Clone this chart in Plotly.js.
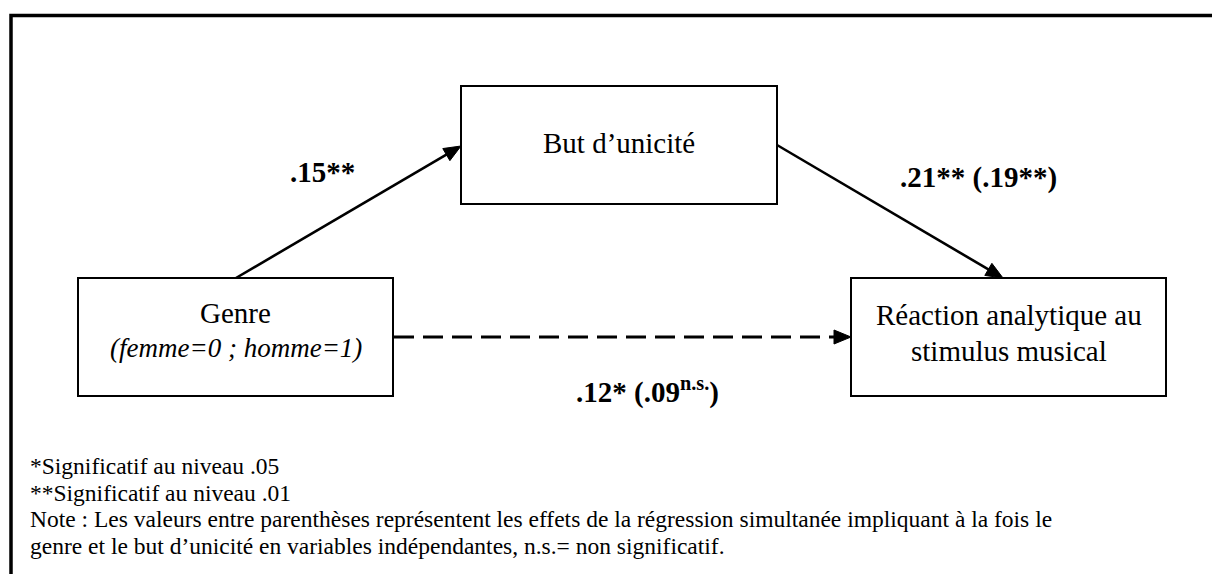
<!DOCTYPE html>
<html>
<head>
<meta charset="utf-8">
<script src="https://cdn.plot.ly/plotly-3.0.1.min.js"></script>
<style>html,body{margin:0;padding:0;background:#fff;}#chart{width:1212px;height:574px;}</style>
</head>
<body>
<div id="chart"></div>
<script>
// ---- content (data) ----
var nodeLines = [["Genre"], ["But d’unicité"], ["Réaction analytique au", "stimulus musical"]];
var nodeSubtitles = ["(femme=0 ; homme=1)", "", ""];
var pathCoefs = [".15**", ".21** (.19**)", ".12* (.09<sup>n.s.</sup>)"];
var pathDashed = [false, false, true];
var notes = [
  "*Significatif au niveau .05",
  "**Significatif au niveau .01",
  "Note : Les valeurs entre parenthèses représentent les effets de la régression simultanée impliquant à la fois le",
  "genre et le but d’unicité en variables indépendantes, n.s.= non significatif."
];

// ---- layout geometry (positions / styles) ----
var CW = 1212, CH = 574;
var SERIF = "Times New Roman";
var boxes = [
  {x0: 78, y0: 278, x1: 393, y1: 396, textY: [313], subY: 348},
  {x0: 461, y0: 86, x1: 777, y1: 204, textY: [143], subY: null},
  {x0: 851, y0: 278, x1: 1166, y1: 396, textY: [315, 351], subY: null}
];
var pathGeom = [
  {sx: 236, sy: 278, ex: 461, ey: 146, lx: 322, ly: 172},
  {sx: 777, sy: 145, ex: 1003, ey: 278, lx: 978, ly: 177},
  {sx: 394, sy: 337, ex: 851, ey: 337, lx: 647, ly: 390}
];
var noteX = 28, noteY0 = 466, noteStep = 26.7;

var shapeList = [];
var annList = [];

function ann(x, y, text, size, xanchor) {
  return {x: x, y: y, xref: "x", yref: "y", text: text, showarrow: false,
    xanchor: xanchor || "center", yanchor: "middle", font: {family: SERIF, size: size, color: "#000"}};
}

// outer frame (top and left edges visible)
shapeList.push({type: "path", xref: "x", yref: "y", path: "M 11 " + (CH + 10) + " L 11 15.5 L " + (CW + 10) + " 15.5",
  line: {color: "#000", width: 3.5}});

// boxes + text
boxes.forEach(function (b, i) {
  shapeList.push({type: "rect", xref: "x", yref: "y", x0: b.x0, y0: b.y0, x1: b.x1, y1: b.y1,
    line: {color: "#000", width: 2}});
  var cx = (b.x0 + b.x1) / 2;
  nodeLines[i].forEach(function (t, k) { annList.push(ann(cx, b.textY[k], t, 29)); });
  if (nodeSubtitles[i]) annList.push(ann(cx, b.subY, "<i>" + nodeSubtitles[i] + "</i>", 27));
});

// paths with arrowheads
var HEAD_L = 17, HEAD_W = 7;
pathGeom.forEach(function (g, i) {
  var dx = g.ex - g.sx, dy = g.ey - g.sy, len = Math.hypot(dx, dy);
  var ux = dx / len, uy = dy / len, nx = -uy, ny = ux;
  var bx = g.ex - HEAD_L * ux, by = g.ey - HEAD_L * uy;
  shapeList.push({type: "line", xref: "x", yref: "y", x0: g.sx, y0: g.sy, x1: bx + ux * 2, y1: by + uy * 2,
    line: {color: "#000", width: pathDashed[i] ? 3 : 2.6, dash: pathDashed[i] ? "20px,9px" : "solid"}});
  shapeList.push({type: "path", xref: "x", yref: "y",
    path: "M " + g.ex + " " + g.ey + " L " + (bx + HEAD_W * nx) + " " + (by + HEAD_W * ny) +
          " L " + (bx - HEAD_W * nx) + " " + (by - HEAD_W * ny) + " Z",
    fillcolor: "#000", line: {color: "#000", width: 1}});
  annList.push(ann(g.lx, g.ly, "<b>" + pathCoefs[i] + "</b>", 29));
});

// footnotes
notes.forEach(function (t, k) { annList.push(ann(noteX, noteY0 + k * noteStep, t, 23.5, "left")); });

var layout = {
  width: CW, height: CH,
  font: {family: SERIF, color: "#000"},
  margin: {l: 0, r: 0, t: 0, b: 0, pad: 0},
  paper_bgcolor: "#fff", plot_bgcolor: "#fff",
  showlegend: false,
  xaxis: {range: [0, CW], visible: false, fixedrange: true},
  yaxis: {range: [CH, 0], visible: false, fixedrange: true},
  shapes: shapeList,
  annotations: annList
};

Plotly.newPlot("chart", [], layout, {staticPlot: true, displayModeBar: false});
</script>
</body>
</html>
